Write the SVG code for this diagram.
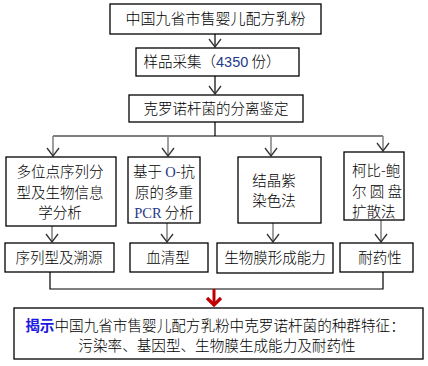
<svg xmlns="http://www.w3.org/2000/svg" width="428" height="366" viewBox="0 0 428 366">
<style>
.box{fill:#fff;stroke:#000;stroke-width:1.3}
.t{font-family:"Noto Sans CJK SC","Noto Sans",sans-serif;font-size:14.5px;fill:#000;font-weight:300}
.c{text-anchor:middle}
.ln{fill:none;stroke:#000;stroke-width:1.2}
.ga{fill:none;stroke:#7f7f7f;stroke-width:1.5}
.bl{fill:#1f3a8a}
.rm{font-family:"Liberation Serif",serif;font-weight:normal}
</style>
<defs>
<marker id="ah" viewBox="0 0 10 14" refX="9" refY="7" markerWidth="10" markerHeight="14" markerUnits="userSpaceOnUse" orient="auto">
<path d="M1,1 L9,7 L1,13" fill="none" stroke="#333" stroke-width="1.3"/>
</marker>
</defs>
<g id="connectors">
<line class="ln" x1="215" y1="34" x2="215" y2="47" marker-end="url(#ah)"/>
<line class="ln" x1="215" y1="76" x2="215" y2="94" marker-end="url(#ah)"/>
<polyline class="ln" points="215,122 215,136"/>
<polyline class="ln" points="53,136 383,136"/>
<line class="ga" x1="53" y1="136" x2="53" y2="156" marker-end="url(#ah)"/>
<line class="ga" x1="168" y1="136" x2="168" y2="156" marker-end="url(#ah)"/>
<line class="ga" x1="271" y1="136" x2="271" y2="156" marker-end="url(#ah)"/>
<line class="ga" x1="383" y1="136" x2="383" y2="151" marker-end="url(#ah)"/>
<line class="ga" x1="52" y1="226" x2="52" y2="242" marker-end="url(#ah)"/>
<line class="ga" x1="167" y1="223" x2="167" y2="242" marker-end="url(#ah)"/>
<line class="ga" x1="273" y1="223" x2="273" y2="242" marker-end="url(#ah)"/>
<line class="ga" x1="381" y1="220" x2="381" y2="242" marker-end="url(#ah)"/>
<polyline class="ln" points="50,272 50,289 383,289 383,272"/>
<line x1="214" y1="289" x2="214" y2="305" stroke="#c00000" stroke-width="3"/>
<polyline points="207,298 214,305 221,298" fill="none" stroke="#c00000" stroke-width="3.2"/>
</g>
<g id="n1"><rect class="box" x="110" y="4" width="211" height="30"/><text class="t c" x="215.5" y="24" style="font-size:15px">中国九省市售婴儿配方乳粉</text></g>
<g id="n2"><rect class="box" x="136" y="48" width="163" height="28"/><text class="t c" x="212" y="67">样品采集（<tspan class="bl" style="font-family:'Liberation Sans',sans-serif;font-weight:normal">4350</tspan> 份）</text></g>
<g id="n3"><rect class="box" x="129" y="95" width="174" height="27"/><text class="t c" x="216" y="114">克罗诺杆菌的分离鉴定</text></g>
<g id="n4"><rect class="box" x="6" y="157" width="110" height="69"/>
<text class="t c" x="60" y="177">多位点序列分</text><text class="t c" x="60" y="198">型及生物信息</text><text class="t c" x="60" y="218">学分析</text></g>
<g id="n5"><rect class="box" x="128" y="157" width="72" height="66"/>
<text class="t c" x="164" y="177">基于 <tspan class="bl rm">O</tspan>-抗</text><text class="t c" x="164" y="198">原的多重</text><text class="t c" x="164" y="218"><tspan class="bl rm">PCR</tspan> 分析</text></g>
<g id="n6"><rect class="box" x="238" y="157" width="83" height="66"/>
<text class="t c" x="274" y="186">结晶紫</text><text class="t c" x="274" y="206">染色法</text></g>
<g id="n7"><rect class="box" x="344" y="152" width="60" height="68"/>
<text class="t" x="352" y="176">柯比-鲍</text><text class="t" x="352" y="197">尔 圆 盘</text><text class="t" x="352" y="217">扩散法</text></g>
<g id="n8"><rect class="box" x="5" y="243" width="109" height="29"/><text class="t c" x="59" y="263">序列型及溯源</text></g>
<g id="n9"><rect class="box" x="130" y="243" width="78" height="29"/><text class="t c" x="168" y="263">血清型</text></g>
<g id="n10"><rect class="box" x="217" y="243" width="116" height="30"/><text class="t c" x="275" y="263">生物膜形成能力</text></g>
<g id="n11"><rect class="box" x="340" y="243" width="73" height="29"/><text class="t c" x="380" y="263">耐药性</text></g>
<g id="n12"><rect class="box" x="14" y="308" width="409" height="51"/>
<text class="t c" x="215" y="331" style="font-size:14.6px"><tspan style="fill:#1a1ae0;font-weight:bold">揭示</tspan>中国九省市售婴儿配方乳粉中克罗诺杆菌的种群特征：</text>
<text class="t c" x="217" y="351" style="font-size:14.6px">污染率、基因型、生物膜生成能力及耐药性</text></g>
</svg>
